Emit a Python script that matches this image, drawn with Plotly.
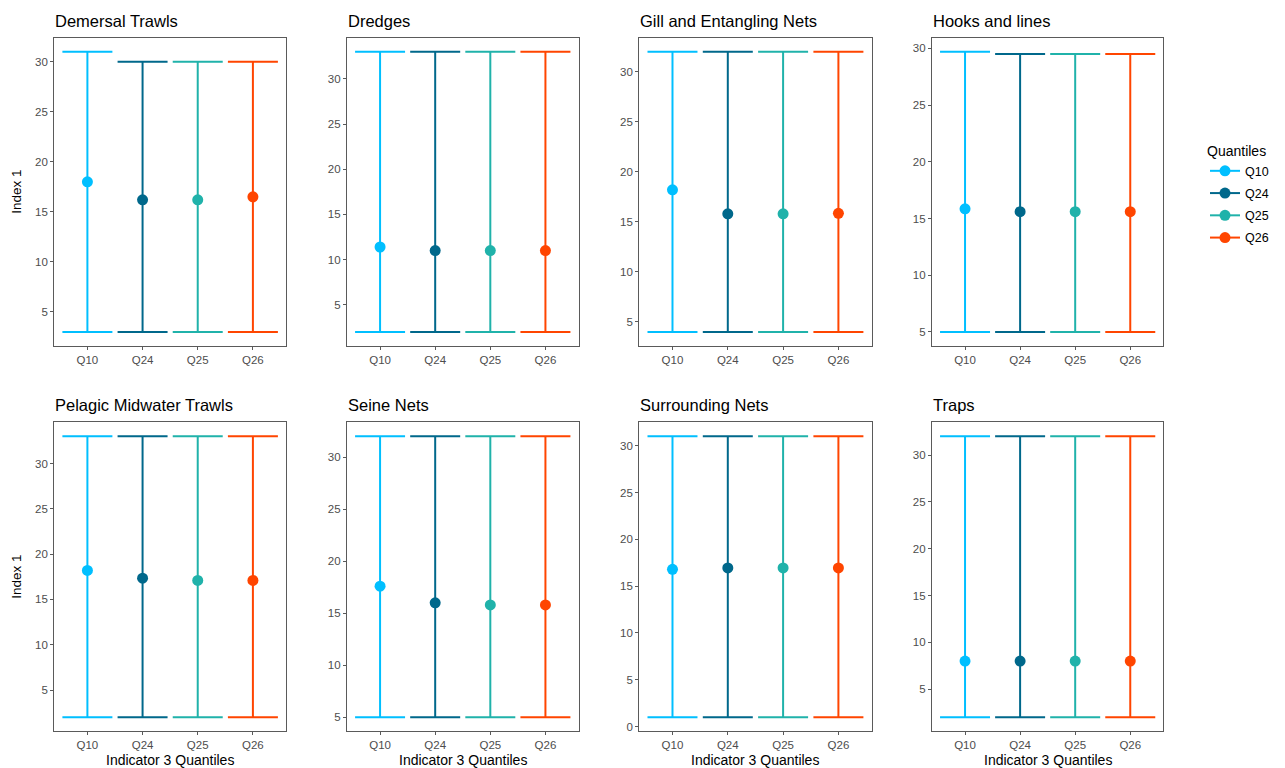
import plotly.graph_objects as go

# ---- data ----
gears = ["Demersal Trawls", "Dredges", "Gill and Entangling Nets", "Hooks and lines",
         "Pelagic Midwater Trawls", "Seine Nets", "Surrounding Nets", "Traps"]
quantiles = ["Q10", "Q24", "Q25", "Q26"]
colors = ["#00BFFF", "#00688B", "#20B2AA", "#FF4500"]

# per gear, per quantile (Q10, Q24, Q25, Q26)
mean_values = [
    [18.0, 16.2, 16.2, 16.5],
    [11.4, 11.0, 11.0, 11.0],
    [18.2, 15.8, 15.8, 15.85],
    [15.85, 15.6, 15.6, 15.6],
    [18.2, 17.35, 17.1, 17.1],
    [17.6, 16.0, 15.8, 15.8],
    [16.8, 16.95, 16.95, 16.95],
    [8.0, 8.0, 8.0, 8.0],
]
low_values = [
    [3, 3, 3, 3],
    [2, 2, 2, 2],
    [4, 4, 4, 4],
    [5, 5, 5, 5],
    [2, 2, 2, 2],
    [5, 5, 5, 5],
    [1, 1, 1, 1],
    [2, 2, 2, 2],
]
high_values = [
    [31, 30, 30, 30],
    [33, 33, 33, 33],
    [32, 32, 32, 32],
    [29.7, 29.5, 29.5, 29.5],
    [33, 33, 33, 33],
    [32, 32, 32, 32],
    [31, 31, 31, 31],
    [32, 32, 32, 32],
]

# ---- layout geometry (pixels) ----
W, H = 1285, 768
col_x = [(54.3, 286.0), (347.0, 578.5), (639.3, 871.6), (932.0, 1163.3)]
row_y = [(37.7, 346.0), (422.3, 731.3)]

FONT = "Liberation Sans, Arial, sans-serif"
AXCOL = "#5A5A5A"
TICKCOL = "#4D4D4D"

fig = go.Figure()
layout_axes = {}
annotations = []

for i, gear in enumerate(gears):
    r, c = divmod(i, 4)
    n = i + 1
    xa = "x" if n == 1 else f"x{n}"
    ya = "y" if n == 1 else f"y{n}"
    for j, q in enumerate(quantiles):
        m = mean_values[i][j]
        lo = low_values[i][j]
        hi = high_values[i][j]
        fig.add_trace(go.Scatter(
            x=[q], y=[m], xaxis=xa, yaxis=ya,
            mode="lines+markers",
            name=q, legendgroup=q, showlegend=(i == 0),
            marker=dict(color=colors[j], size=11),
            line=dict(color=colors[j], width=2),
            error_y=dict(type="data", symmetric=False,
                         array=[hi - m], arrayminus=[m - lo],
                         color=colors[j], thickness=2, width=25),
            hoverinfo="x+y",
        ))
    dmin = min(low_values[i])
    dmax = max(high_values[i])
    pad = 0.05 * (dmax - dmin)
    x0, x1 = col_x[c]
    yt, yb = row_y[r]
    xkey = "xaxis" if n == 1 else f"xaxis{n}"
    ykey = "yaxis" if n == 1 else f"yaxis{n}"
    layout_axes[xkey] = dict(
        domain=[x0 / W, x1 / W], anchor=ya, type="category",
        categoryorder="array", categoryarray=quantiles,
        range=[-0.6, 3.6], showgrid=False, zeroline=False,
        showline=True, mirror=True, linecolor=AXCOL, linewidth=1.2,
        ticks="outside", ticklen=3, tickcolor=AXCOL, tickwidth=1,
        tickfont=dict(family=FONT, size=11.5, color=TICKCOL),
        fixedrange=True,
    )
    layout_axes[ykey] = dict(
        domain=[1 - yb / H, 1 - yt / H], anchor=xa,
        range=[dmin - pad, dmax + pad], tick0=0, dtick=5,
        showgrid=False, zeroline=False,
        showline=True, mirror=True, linecolor=AXCOL, linewidth=1.2,
        ticks="outside", ticklen=3, tickcolor=AXCOL, tickwidth=1,
        tickfont=dict(family=FONT, size=11.5, color=TICKCOL),
        fixedrange=True,
    )
    # panel title
    annotations.append(dict(
        text=gear, xref="paper", yref="paper",
        x=(x0 - 1) / W, y=1 - (yt - 17) / H,
        xanchor="left", yanchor="middle", showarrow=False,
        font=dict(family=FONT, size=16.5, color="black"),
    ))
    if c == 0:
        annotations.append(dict(
            text="Index 1", xref="paper", yref="paper",
            x=17 / W, y=1 - ((yt + yb) / 2) / H, textangle=-90,
            xanchor="center", yanchor="middle", showarrow=False,
            font=dict(family=FONT, size=13.5, color="black"),
        ))
    if r == 1:
        annotations.append(dict(
            text="Indicator 3 Quantiles", xref="paper", yref="paper",
            x=((x0 + x1) / 2) / W, y=1 - 760 / H,
            xanchor="center", yanchor="middle", showarrow=False,
            font=dict(family=FONT, size=14, color="black"),
        ))

fig.update_layout(
    width=W, height=H,
    margin=dict(l=0, r=0, t=0, b=0),
    paper_bgcolor="white", plot_bgcolor="white",
    annotations=annotations,
    legend=dict(
        title=dict(text="Quantiles", font=dict(family=FONT, size=14, color="black")),
        font=dict(family=FONT, size=12.5, color="black"),
        x=1205 / W, y=1 - 138 / H, xanchor="left", yanchor="top",
        tracegroupgap=3, itemwidth=30, bgcolor="rgba(0,0,0,0)",
    ),
    **layout_axes,
)

fig.write_html(
    "out.html",
    config={"displayModeBar": False},
    post_script="document.body.style.margin='0';document.body.style.overflow='hidden';",
)
